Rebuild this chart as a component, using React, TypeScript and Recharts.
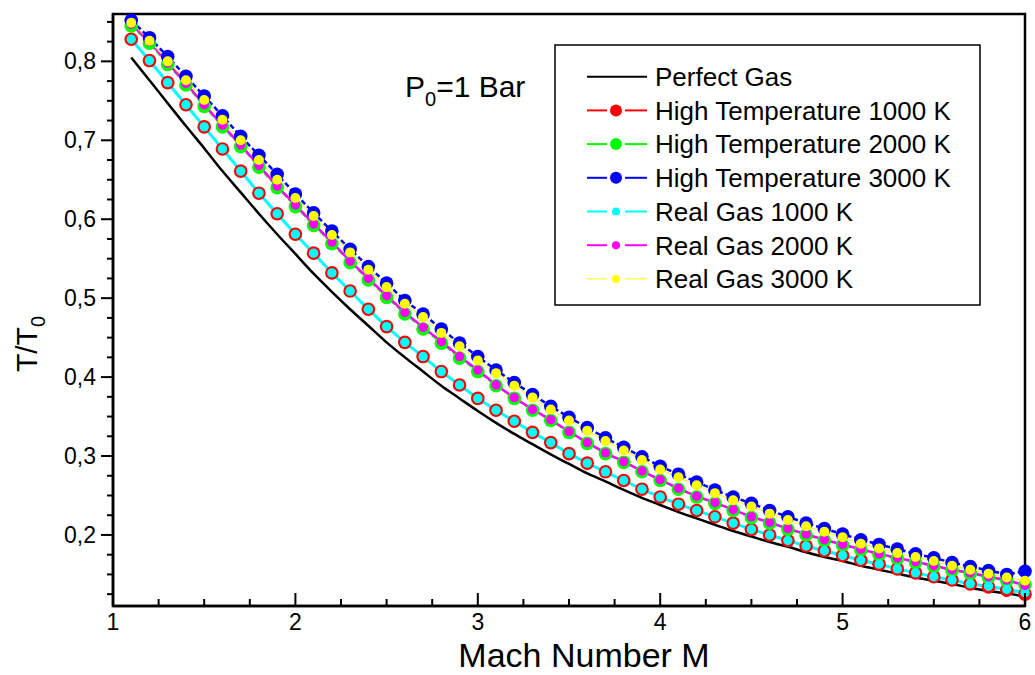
import React from 'react';
import { LineChart, Line, XAxis, YAxis, ReferenceArea } from 'recharts';

const machNumbers = [
  1.1, 1.2, 1.3, 1.4, 1.5, 1.6, 1.7, 1.8, 1.9, 2.0,
  2.1, 2.2, 2.3, 2.4, 2.5, 2.6, 2.7, 2.8, 2.9, 3.0,
  3.1, 3.2, 3.3, 3.4, 3.5, 3.6, 3.7, 3.8, 3.9, 4.0,
  4.1, 4.2, 4.3, 4.4, 4.5, 4.6, 4.7, 4.8, 4.9, 5.0,
  5.1, 5.2, 5.3, 5.4, 5.5, 5.6, 5.7, 5.8, 5.9, 6.0,
];

const perfectGas = [
  0.805, 0.776, 0.747, 0.718, 0.690, 0.661, 0.634, 0.607, 0.581, 0.556,
  0.531, 0.508, 0.486, 0.465, 0.444, 0.425, 0.407, 0.389, 0.373, 0.357,
  0.342, 0.328, 0.315, 0.302, 0.290, 0.278, 0.268, 0.257, 0.247, 0.238,
  0.229, 0.221, 0.213, 0.205, 0.198, 0.191, 0.185, 0.178, 0.172, 0.167,
  0.161, 0.156, 0.151, 0.146, 0.142, 0.138, 0.133, 0.129, 0.126, 0.122,
];

const highTemp1000 = [
  0.828, 0.801, 0.773, 0.745, 0.717, 0.689, 0.661, 0.633, 0.607, 0.581,
  0.557, 0.532, 0.509, 0.486, 0.464, 0.444, 0.426, 0.407, 0.390, 0.373,
  0.358, 0.344, 0.330, 0.317, 0.303, 0.291, 0.280, 0.269, 0.258, 0.248,
  0.239, 0.231, 0.223, 0.215, 0.207, 0.200, 0.193, 0.186, 0.180, 0.174,
  0.168, 0.163, 0.157, 0.152, 0.147, 0.143, 0.138, 0.134, 0.130, 0.125,
];

const highTemp2000 = [
  0.845, 0.823, 0.796, 0.770, 0.743, 0.717, 0.692, 0.666, 0.640, 0.616,
  0.592, 0.569, 0.545, 0.523, 0.501, 0.480, 0.461, 0.443, 0.424, 0.407,
  0.389, 0.373, 0.358, 0.345, 0.330, 0.316, 0.303, 0.292, 0.280, 0.269,
  0.258, 0.248, 0.240, 0.231, 0.222, 0.215, 0.207, 0.200, 0.193, 0.187,
  0.181, 0.175, 0.170, 0.165, 0.160, 0.155, 0.151, 0.146, 0.142, 0.137,
];

const highTemp3000 = [
  0.852, 0.830, 0.806, 0.781, 0.756, 0.731, 0.705, 0.681, 0.657, 0.632,
  0.608, 0.585, 0.562, 0.540, 0.519, 0.497, 0.480, 0.461, 0.443, 0.426,
  0.409, 0.393, 0.378, 0.363, 0.349, 0.336, 0.323, 0.311, 0.299, 0.287,
  0.277, 0.267, 0.257, 0.248, 0.240, 0.231, 0.223, 0.215, 0.208, 0.201,
  0.194, 0.188, 0.182, 0.176, 0.171, 0.165, 0.160, 0.155, 0.150, 0.154,
];

const realGas1000 = [
  0.828, 0.801, 0.773, 0.745, 0.717, 0.689, 0.661, 0.633, 0.607, 0.581,
  0.557, 0.532, 0.509, 0.486, 0.464, 0.444, 0.426, 0.407, 0.390, 0.373,
  0.358, 0.344, 0.330, 0.317, 0.303, 0.291, 0.280, 0.269, 0.258, 0.248,
  0.239, 0.231, 0.223, 0.215, 0.207, 0.200, 0.193, 0.186, 0.180, 0.174,
  0.168, 0.163, 0.157, 0.152, 0.147, 0.143, 0.138, 0.135, 0.131, 0.127,
];

const realGas2000 = [
  0.847, 0.825, 0.798, 0.772, 0.745, 0.719, 0.694, 0.668, 0.642, 0.618,
  0.594, 0.571, 0.547, 0.525, 0.503, 0.482, 0.463, 0.445, 0.426, 0.409,
  0.390, 0.374, 0.359, 0.346, 0.331, 0.317, 0.304, 0.293, 0.281, 0.270,
  0.259, 0.249, 0.241, 0.232, 0.223, 0.216, 0.208, 0.201, 0.194, 0.188,
  0.182, 0.176, 0.171, 0.166, 0.161, 0.156, 0.152, 0.147, 0.143, 0.136,
];

const realGas3000 = [
  0.849, 0.826, 0.800, 0.776, 0.751, 0.726, 0.700, 0.675, 0.650, 0.627,
  0.604, 0.580, 0.558, 0.536, 0.514, 0.493, 0.476, 0.456, 0.439, 0.421,
  0.405, 0.389, 0.374, 0.359, 0.345, 0.332, 0.319, 0.307, 0.295, 0.283,
  0.273, 0.263, 0.253, 0.244, 0.236, 0.227, 0.219, 0.211, 0.204, 0.197,
  0.189, 0.183, 0.177, 0.172, 0.167, 0.161, 0.156, 0.151, 0.146, 0.142,
];

const xTicks = [1, 1.25, 1.5, 1.75, 2, 2.25, 2.5, 2.75, 3, 3.25, 3.5, 3.75, 4, 4.25, 4.5, 4.75, 5, 5.25, 5.5, 5.75, 6];
const xMajorTicks = [1, 2, 3, 4, 5, 6];
const yTicks = [0.125, 0.15, 0.175, 0.2, 0.225, 0.25, 0.275, 0.3, 0.325, 0.35, 0.375, 0.4, 0.425, 0.45, 0.475, 0.5, 0.525, 0.55, 0.575, 0.6, 0.625, 0.65, 0.675, 0.7, 0.725, 0.75, 0.775, 0.8, 0.825, 0.85];
const yMajorTicks = [0.2, 0.3, 0.4, 0.5, 0.6, 0.7, 0.8];

const seriesNames = [
  'Perfect Gas',
  'High Temperature 1000 K',
  'High Temperature 2000 K',
  'High Temperature 3000 K',
  'Real Gas 1000 K',
  'Real Gas 2000 K',
  'Real Gas 3000 K',
];

const data = machNumbers.map((m, i) => ({
  m,
  perfect: perfectGas[i],
  ht1000: highTemp1000[i],
  ht2000: highTemp2000[i],
  ht3000: highTemp3000[i],
  rg1000: realGas1000[i],
  rg2000: realGas2000[i],
  rg3000: realGas3000[i],
}));

const FONT = '"Liberation Sans", Arial, Helvetica, sans-serif';

type SeriesStyle = {
  key: string;
  name: string;
  color: string;
  width: number;
  dash?: string;
  r: number;
  legendR: number;
  legendWidth: number;
};

const series: SeriesStyle[] = [
  { key: 'perfect', name: seriesNames[0], color: '#000000', width: 2.5, r: 0, legendR: 0, legendWidth: 2 },
  { key: 'ht1000', name: seriesNames[1], color: '#ff0000', width: 1.5, dash: '6 3', r: 6.8, legendR: 6, legendWidth: 2 },
  { key: 'ht2000', name: seriesNames[2], color: '#00ff00', width: 1.5, dash: '6 3', r: 6.8, legendR: 6, legendWidth: 2 },
  { key: 'ht3000', name: seriesNames[3], color: '#0000ff', width: 2.5, dash: '5 3', r: 6.8, legendR: 6, legendWidth: 2 },
  { key: 'rg1000', name: seriesNames[4], color: '#00ffff', width: 3, r: 4.7, legendR: 4, legendWidth: 2 },
  { key: 'rg2000', name: seriesNames[5], color: '#ff00ff', width: 2.5, r: 4.7, legendR: 4, legendWidth: 2 },
  { key: 'rg3000', name: seriesNames[6], color: '#ffff00', width: 1, r: 5, legendR: 4, legendWidth: 1 },
];

const isIn = (arr: number[], v: number) => arr.some((t) => Math.abs(t - v) < 1e-9);

const TICK_FONT = 23;

const renderYTick = (props: any) => {
  const { x, y, payload, index } = props;
  const v = payload.value as number;
  const major = isIn(yMajorTicks, v);
  return (
    <g key={`yt-${index}-${v}`}>
      <line x1={x - (major ? 12 : 6)} x2={x} y1={y} y2={y} stroke="#000" strokeWidth={2} />
      {major && (
        <text x={x - 17} y={y + 8} textAnchor="end" fontSize={TICK_FONT} fontFamily={FONT} fill="#000">
          {v.toFixed(1).replace('.', ',')}
        </text>
      )}
    </g>
  );
};

const renderXTick = (props: any) => {
  const { x, y, payload, index } = props;
  const v = payload.value as number;
  const major = isIn(xMajorTicks, v);
  return (
    <g key={`xt-${index}-${v}`}>
      <line x1={x} x2={x} y1={y} y2={y - (major ? 13 : 7)} stroke="#000" strokeWidth={2} />
      {major && (
        <text x={x} y={y + 24} textAnchor="middle" fontSize={TICK_FONT} fontFamily={FONT} fill="#000">
          {String(v)}
        </text>
      )}
    </g>
  );
};

const legendTop = 45;
const legendLeft = 555;
const rowStart = 76.7;
const rowStep = 33.7;

export default function App() {
  return (
    <div style={{ position: 'fixed', left: 0, top: 0, width: 1035, height: 675, background: '#fff' }}>
      <LineChart
        width={1035}
        height={675}
        data={data}
        margin={{ top: 14, right: 10, left: 0, bottom: 0 }}
      >
        <XAxis
          type="number"
          dataKey="m"
          domain={[1, 6]}
          ticks={xTicks}
          interval={0}
          height={69}
          tickSize={0}
          tickMargin={0}
          tickLine={false}
          tick={renderXTick}
          axisLine={{ stroke: '#000', strokeWidth: 2.5 }}
        />
        <YAxis
          type="number"
          domain={[0.11, 0.86]}
          ticks={yTicks}
          interval={0}
          width={113}
          tickSize={0}
          tickMargin={0}
          tickLine={false}
          tick={renderYTick}
          axisLine={{ stroke: '#000', strokeWidth: 2.5 }}
        />
        <ReferenceArea x1={1} x2={6} y1={0.11} y2={0.86} fill="none" fillOpacity={0} stroke="#000" strokeWidth={2.5} />
        {series.map((s) => (
          <Line
            key={s.key}
            dataKey={s.key}
            name={s.name}
            type={s.key === 'perfect' ? 'monotone' : 'linear'}
            stroke={s.color}
            strokeWidth={s.width}
            strokeDasharray={s.dash}
            dot={s.r > 0 ? { r: s.r, fill: s.color, stroke: s.color, strokeWidth: 0 } : false}
            activeDot={false}
            isAnimationActive={false}
          />
        ))}
      </LineChart>
      <svg
        width={1035}
        height={675}
        style={{ position: 'absolute', left: 0, top: 0, pointerEvents: 'none' }}
      >
        <text x={405} y={97} fontSize={30} fontFamily={FONT} fill="#000">
          P<tspan fontSize={20} dy={9}>0</tspan>
          <tspan fontSize={30} dy={-9}>=1 Bar</tspan>
        </text>
        <text x={584} y={667} textAnchor="middle" fontSize={34} fontFamily={FONT} fill="#000">
          Mach Number M
        </text>
        <text
          x={37}
          y={344}
          textAnchor="middle"
          fontSize={30}
          fontFamily={FONT}
          fill="#000"
          transform="rotate(-90, 37, 344)"
        >
          T/T<tspan fontSize={20} dy={8}>0</tspan>
        </text>
        <rect x={legendLeft} y={legendTop} width={425} height={260} fill="#fff" stroke="#000" strokeWidth={1.5} />
        {series.map((s, i) => {
          const cy = rowStart + i * rowStep;
          return (
            <g key={s.key}>
              {s.r > 0 ? (
                <>
                  <line x1={587} x2={607} y1={cy} y2={cy} stroke={s.color} strokeWidth={s.legendWidth} />
                  <line x1={625} x2={647} y1={cy} y2={cy} stroke={s.color} strokeWidth={s.legendWidth} />
                  <circle cx={616} cy={cy} r={s.legendR} fill={s.color} />
                </>
              ) : (
                <line x1={587} x2={647} y1={cy} y2={cy} stroke={s.color} strokeWidth={2} />
              )}
              <text x={655} y={cy + 9.3} fontSize={26} fontFamily={FONT} fill="#000">
                {s.name}
              </text>
            </g>
          );
        })}
      </svg>
    </div>
  );
}
